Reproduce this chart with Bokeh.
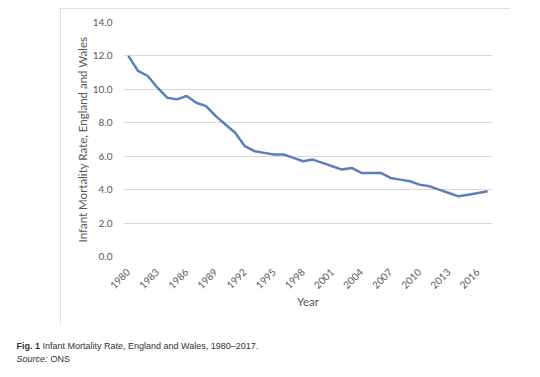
import math
from bokeh.plotting import figure
from bokeh.layouts import column, row
from bokeh.models import Range1d, FixedTicker, PrintfTickFormatter, Label
from bokeh.embed import file_html
from bokeh.resources import INLINE

years = list(range(1980, 2018))
rate = [12.0, 11.1, 10.8, 10.1, 9.5, 9.4, 9.6, 9.2, 9.0, 8.4,
        7.9, 7.4, 6.6, 6.3, 6.2, 6.1, 6.1, 5.9, 5.7, 5.8,
        5.6, 5.4, 5.2, 5.3, 5.0, 5.0, 5.0, 4.7, 4.6, 4.5,
        4.3, 4.2, 4.0, 3.8, 3.6, 3.7, 3.8, 3.9]
x_ticks = list(range(1980, 2017, 3))
y_ticks = [0, 2, 4, 6, 8, 10, 12, 14]

BOX_L, BOX_T, BOX_W, BOX_H = 60, 8, 450, 316
p = figure(width=BOX_W, height=BOX_H, output_backend="svg", toolbar_location=None,
           x_range=Range1d(1979.5, 2017.5), y_range=Range1d(0, 14),
           min_border_left=123 - BOX_L, min_border_right=BOX_L + BOX_W - 492,
           min_border_top=22 - BOX_T, min_border_bottom=BOX_T + BOX_H - 256,
           margin=(BOX_T, 540 - BOX_L - BOX_W, 0, BOX_L))
p.styles = {"outline": "1px solid #d9d9d9", "outline-offset": "-1px"}
p.outline_line_color = None
p.background_fill_color = "white"
p.border_fill_color = "white"

p.line(years, rate, line_color="#5b80b9", line_width=2.5)

p.xgrid.grid_line_color = None
p.ygrid.grid_line_color = "#d9d9d9"
p.ygrid.grid_line_width = 1

for ax in (p.xaxis[0], p.yaxis[0]):
    ax.axis_line_color = None
    ax.major_tick_line_color = None
    ax.minor_tick_line_color = None
    ax.major_label_text_font = "Lato"
    ax.major_label_text_font_size = "10px"
    ax.major_label_text_color = "#595959"
    ax.axis_label_text_font = "Lato"
    ax.axis_label_text_font_size = "11.5px"
    ax.axis_label_text_font_style = "normal"
    ax.axis_label_text_color = "#595959"

p.yaxis.ticker = FixedTicker(ticks=y_ticks)
p.yaxis.formatter = PrintfTickFormatter(format="%.1f")
p.yaxis.major_label_standoff = 5
p.yaxis.axis_label = "Infant Mortality Rate, England and Wales"
p.yaxis.axis_label_standoff = 1

p.xaxis.ticker = FixedTicker(ticks=x_ticks)
p.xaxis.formatter = PrintfTickFormatter(format="%d")
p.xaxis.major_label_orientation = math.pi / 4
p.xaxis.major_label_standoff = 8
p.xaxis.axis_label = "Year"
p.xaxis.axis_label_standoff = 0

CAP_H = 377 - BOX_T - BOX_H
c = figure(width=540, height=CAP_H, output_backend="svg", toolbar_location=None,
           x_range=Range1d(0, 540), y_range=Range1d(CAP_H, 0),
           x_axis_type=None, y_axis_type=None, min_border=0, margin=0,
           min_border_left=0, min_border_right=0, min_border_top=0, min_border_bottom=0)
c.outline_line_color = None
c.xgrid.grid_line_color = None
c.ygrid.grid_line_color = None
c.background_fill_color = "white"
c.border_fill_color = "white"

cap_font = "Liberation Sans"
cap_size = "9px"
y1 = 345 - (BOX_T + BOX_H)
y2 = 358 - (BOX_T + BOX_H)
c.add_layout(Label(x=16, y=y1, text="Fig. 1", text_font=cap_font, text_font_size=cap_size,
                   text_font_style="bold", text_color="#333333", text_baseline="middle"))
c.add_layout(Label(x=42, y=y1, text="Infant Mortality Rate, England and Wales, 1980\u20132017.",
                   text_font=cap_font, text_font_size=cap_size,
                   text_color="#333333", text_baseline="middle"))
c.add_layout(Label(x=16, y=y2, text="Source:", text_font=cap_font, text_font_size=cap_size,
                   text_font_style="italic", text_color="#333333", text_baseline="middle"))
c.add_layout(Label(x=50, y=y2, text="ONS", text_font=cap_font, text_font_size=cap_size,
                   text_color="#333333", text_baseline="middle"))

layout = column(p, row(c), spacing=0)
open("out.html", "w").write(file_html(layout, INLINE))
